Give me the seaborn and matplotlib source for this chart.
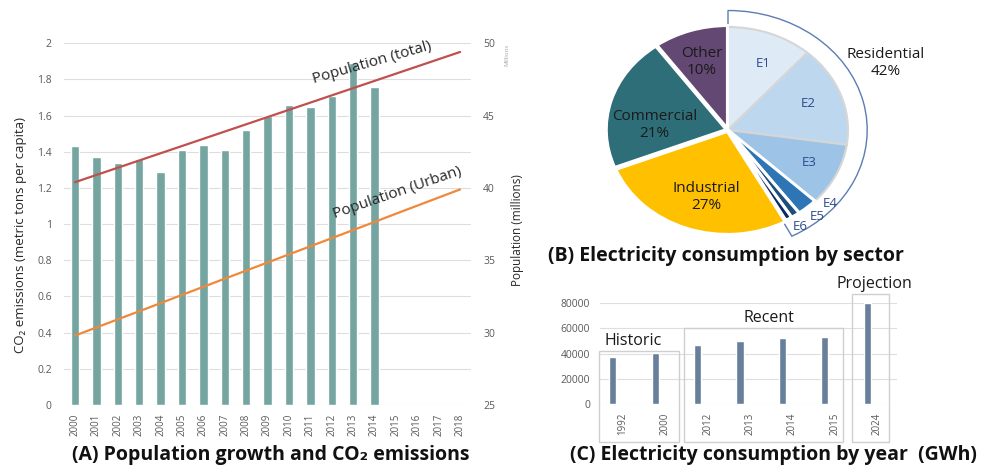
import numpy as np
import pandas as pd
import seaborn as sns
import matplotlib.pyplot as plt
from matplotlib.patches import Wedge, Rectangle
from matplotlib.transforms import ScaledTranslation

# ---- data ----
years = [str(y) for y in range(2000, 2019)]
co2_years = [str(y) for y in range(2000, 2015)]
co2 = [1.43, 1.37, 1.34, 1.36, 1.29, 1.41, 1.44, 1.41, 1.52, 1.60,
       1.66, 1.65, 1.71, 1.89, 1.76]
pop_total = [40.4, 40.9, 41.4, 41.9, 42.4, 42.9, 43.4, 43.9, 44.4, 44.9,
             45.4, 45.9, 46.4, 46.9, 47.4, 47.9, 48.4, 48.9, 49.4]
pop_urban = [29.8, 30.36, 30.92, 31.48, 32.04, 32.61, 33.17, 33.73, 34.29, 34.85,
             35.41, 35.97, 36.53, 37.09, 37.65, 38.22, 38.78, 39.34, 39.9]

res_labels = ['E1', 'E2', 'E3', 'E4', 'E5', 'E6']
res_shares = [11.5, 15.8, 9.8, 2.8, 1.2, 0.9]
res_colors = ['#deebf7', '#bdd7ee', '#9dc3e6', '#2e75b6', '#1f4e79', '#0c2a62']
sector_labels = ['Industrial', 'Commercial', 'Other']
sector_shares = [27, 21, 10]
sector_colors = ['#ffc000', '#2e6e78', '#634873']

elec_years = ['1992', '2000', '2012', '2013', '2014', '2015', '2024']
elec_gwh = [37200, 40100, 46600, 49800, 51900, 53200, 80000]

sns.set_theme(style='white')
plt.rcParams['font.family'] = ['Open Sans', 'DejaVu Sans']
tick_grey = '#595959'
dark = '#262626'

fig = plt.figure(figsize=(9.82, 4.71), dpi=100)

# ---- (A) bars + population lines ----
axA = fig.add_axes([0.0655, 0.1401, 0.4139, 0.768])
dfA = pd.DataFrame({'year': co2_years, 'co2': co2})
sns.barplot(data=dfA, x='year', y='co2', order=years, color='#74a5a1',
            saturation=1, width=0.39, errorbar=None, ax=axA)
axA.set_ylim(0, 2)
axA.set_xlim(-0.5, len(years) - 0.5)
axA.set_yticks(np.arange(0, 2.01, 0.2))
axA.set_yticklabels([f'{v:g}' for v in np.arange(0, 2.01, 0.2)])
axA.grid(axis='y', color='#dedede', lw=0.8)
axA.set_axisbelow(True)
axA.tick_params(axis='y', length=0, pad=9, labelsize=7.5, labelcolor=tick_grey)
axA.tick_params(axis='x', length=0, pad=6, labelsize=7, labelcolor=tick_grey,
                labelrotation=90)
axA.set_xlabel('')
axA.set_ylabel('CO₂ emissions (metric tons per capita)', fontsize=9.5, color=dark)
axA.yaxis.label.set_va('center')
axA.yaxis.set_label_coords(-0.109, 0.47)
sns.despine(ax=axA, left=True, bottom=True)

ax2 = axA.twinx()
xpos = np.arange(len(years))
sns.lineplot(x=xpos, y=pop_total, color='#c0504d', lw=1.6, ax=ax2)
sns.lineplot(x=xpos, y=pop_urban, color='#f0883a', lw=1.6, ax=ax2)
ax2.set_ylim(25, 50)
ax2.set_xlim(-0.5, len(years) - 0.5)
ax2.set_yticks(range(25, 51, 5))
ax2.grid(False)
ax2.tick_params(axis='y', length=0, pad=9, labelsize=7.5, labelcolor=tick_grey)
ax2.set_ylabel('Population (millions)', fontsize=8.5, color=dark)
ax2.yaxis.label.set_va('center')
ax2.yaxis.set_label_coords(1.114, 0.484)
sns.despine(ax=ax2, left=True, bottom=True, right=True)
ax2.text(13.9, 48.65, 'Population (total)', rotation=16, rotation_mode='anchor',
         ha='center', va='center', fontsize=11, color=dark)
ax2.text(15.05, 39.66, 'Population (Urban)', rotation=19, rotation_mode='anchor',
         ha='center', va='center', fontsize=11, color=dark)
fig.text(507 / 982, 1 - 55 / 471, 'Millions', rotation=90, ha='center', va='center',
         fontsize=4.5, color='#a6a6a6')

# ---- (B) pie ----
axP = fig.add_axes([584 / 982, (471 - 258.75) / 471, 336 / 982, 257.5 / 471])
shares = res_shares + sector_shares
colors = res_colors + sector_colors
explode = [0] * len(res_shares) + [0.015] * len(sector_shares)
wedges, _ = axP.pie(shares, colors=colors, startangle=90, counterclock=False,
                    explode=explode,
                    wedgeprops=dict(edgecolor='white', linewidth=2.2))
for w in wedges[:3]:
    w.set_edgecolor('#d6d6d6')
    w.set_linewidth(1.5)
axP.set_aspect('auto')
axP.set_xlim(-1.2, 1.6)
axP.set_ylim(-1.25, 1.25)
res_end = 90 - 360 * sum(res_shares) / 100 - 1.5
axP.add_patch(Wedge((0, 0), 1.16, res_end, 90, facecolor='white',
                    edgecolor='#5b7db1', lw=1, zorder=0))

e_pos = [(0.29, 0.65), (0.67, 0.26), (0.68, -0.32), (0.85, -0.71),
         (0.74, -0.84), (0.6, -0.94)]
for lab, (x, y) in zip(res_labels, e_pos):
    axP.text(x, y, lab, ha='center', va='center', fontsize=9.5, color='#2f4b8c')
s_pos = [(-0.18, -0.65), (-0.61, 0.05), (-0.22, 0.66)]
for lab, val, (x, y) in zip(sector_labels, sector_shares, s_pos):
    axP.text(x, y, f'{lab}\n{val}%', ha='center', va='center', fontsize=11,
             color='#1a1a1a', linespacing=1.15)
axP.text(1.31, 0.65, f'Residential\n{round(sum(res_shares))}%', ha='center',
         va='center', fontsize=11, color='#1a1a1a', linespacing=1.15)

# ---- (C) electricity by year ----
axC = fig.add_axes([0.611, 0.1416, 0.3024, 0.2157])
dfC = pd.DataFrame({'year': elec_years, 'gwh': elec_gwh})
sns.barplot(data=dfC, x='year', y='gwh', color='#687f9b', saturation=1,
            width=0.17, errorbar=None, ax=axC)
axC.set_xlim(-0.3, len(elec_years) - 0.3)
axC.set_ylim(0, 80000)
axC.set_yticks(range(0, 80001, 20000))
axC.grid(axis='y', color='#dedede', lw=0.8)
axC.set_axisbelow(True)
axC.tick_params(axis='y', length=0, pad=7, labelsize=7.5, labelcolor=tick_grey)
axC.tick_params(axis='x', length=0, pad=6, labelsize=7, labelcolor=tick_grey,
                labelrotation=90)
shift = ScaledTranslation(0.1, 0, fig.dpi_scale_trans)
for lab in axC.get_xticklabels():
    lab.set_transform(lab.get_transform() + shift)
axC.set_xlabel('')
axC.set_ylabel('')
sns.despine(ax=axC, left=True, bottom=True)

boxes = [(-0.32, 1.56, 42000, 'Historic', 0.48, 49800),
         (1.68, 5.43, 60100, 'Recent', 3.68, 68000),
         (5.64, 6.51, 86900, 'Projection', 6.16, 94500)]
for x0, x1, top, name, tx, ty in boxes:
    axC.add_patch(Rectangle((x0, -30000), x1 - x0, top + 30000, fill=False,
                            edgecolor='#cfcfcf', lw=1, clip_on=False))
    axC.text(tx, ty, name, ha='center', va='center', fontsize=11.5,
             color='#1a1a1a', clip_on=False)

# ---- titles ----
fig.text(271 / 982, 1 - 455 / 471, '(A) Population growth and CO₂ emissions',
         ha='center', va='center', fontsize=14, fontweight='bold', color='#111111')
fig.text(726 / 982, 1 - 256 / 471, '(B) Electricity consumption by sector',
         ha='center', va='center', fontsize=14, fontweight='bold', color='#111111')
fig.text(773 / 982, 1 - 455 / 471, '(C) Electricity consumption by year  (GWh)',
         ha='center', va='center', fontsize=14, fontweight='bold', color='#111111')

fig.savefig('out.png', dpi=100)
